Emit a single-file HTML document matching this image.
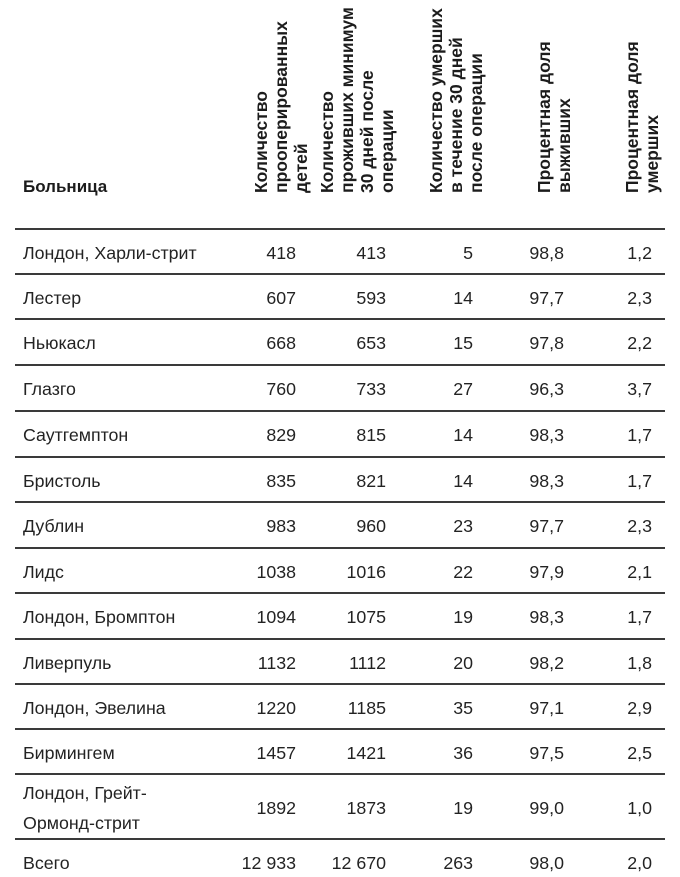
<!DOCTYPE html>
<html>
<head>
<meta charset="utf-8">
<style>
  html, body { margin:0; padding:0; background:#fff; }
  svg { display:block; }
  .h { font-family:"Liberation Sans", "Noto Sans CJK SC", sans-serif; font-weight:bold; font-size:17px; fill:#1c1c1c; }
  .hr { font-family:"Liberation Sans", "Noto Sans CJK SC", sans-serif; font-weight:bold; font-size:17.5px; fill:#1c1c1c; }
  .t { font-family:"Liberation Sans", "Noto Sans CJK SC", sans-serif; font-size:17.8px; fill:#232323; }
  .n { text-anchor:end; }
  line { stroke:#3a3a3a; stroke-width:2; }
</style>
</head>
<body>
<svg width="680" height="877" viewBox="0 0 680 877" xmlns="http://www.w3.org/2000/svg">
  <!-- Header -->
  <text class="h" x="23" y="192">Больница</text>

  <g class="hr">
    <text transform="translate(267,193) rotate(-90)">Количество</text>
    <text transform="translate(287,193) rotate(-90)">прооперированных</text>
    <text transform="translate(307,193) rotate(-90)">детей</text>

    <text transform="translate(333,193) rotate(-90)">Количество</text>
    <text transform="translate(353,193) rotate(-90)">проживших минимум</text>
    <text transform="translate(373,193) rotate(-90)">30 дней после</text>
    <text transform="translate(393,193) rotate(-90)">операции</text>

    <text transform="translate(442,193) rotate(-90)">Количество умерших</text>
    <text transform="translate(462,193) rotate(-90)">в течение 30 дней</text>
    <text transform="translate(482,193) rotate(-90)">после операции</text>

    <text transform="translate(550,193) rotate(-90)">Процентная доля</text>
    <text transform="translate(570,193) rotate(-90)">выживших</text>

    <text transform="translate(638,193) rotate(-90)">Процентная доля</text>
    <text transform="translate(658,193) rotate(-90)">умерших</text>
  </g>

  <!-- Lines -->
  <line x1="15" y1="229" x2="665" y2="229"/>
  <line x1="15" y1="274" x2="665" y2="274"/>
  <line x1="15" y1="319" x2="665" y2="319"/>
  <line x1="15" y1="365" x2="665" y2="365"/>
  <line x1="15" y1="411" x2="665" y2="411"/>
  <line x1="15" y1="457" x2="665" y2="457"/>
  <line x1="15" y1="502" x2="665" y2="502"/>
  <line x1="15" y1="548" x2="665" y2="548"/>
  <line x1="15" y1="593" x2="665" y2="593"/>
  <line x1="15" y1="639" x2="665" y2="639"/>
  <line x1="15" y1="684" x2="665" y2="684"/>
  <line x1="15" y1="729" x2="665" y2="729"/>
  <line x1="15" y1="774" x2="665" y2="774"/>
  <line x1="15" y1="839" x2="665" y2="839"/>

  <!-- Rows -->
  <g class="t">
    <text x="23" y="259">Лондон, Харли-стрит</text>
    <text class="n" x="296" y="259">418</text><text class="n" x="386" y="259">413</text><text class="n" x="473" y="259">5</text><text class="n" x="564" y="259">98,8</text><text class="n" x="652" y="259">1,2</text>

    <text x="23" y="304">Лестер</text>
    <text class="n" x="296" y="304">607</text><text class="n" x="386" y="304">593</text><text class="n" x="473" y="304">14</text><text class="n" x="564" y="304">97,7</text><text class="n" x="652" y="304">2,3</text>

    <text x="23" y="349">Ньюкасл</text>
    <text class="n" x="296" y="349">668</text><text class="n" x="386" y="349">653</text><text class="n" x="473" y="349">15</text><text class="n" x="564" y="349">97,8</text><text class="n" x="652" y="349">2,2</text>

    <text x="23" y="395">Глазго</text>
    <text class="n" x="296" y="395">760</text><text class="n" x="386" y="395">733</text><text class="n" x="473" y="395">27</text><text class="n" x="564" y="395">96,3</text><text class="n" x="652" y="395">3,7</text>

    <text x="23" y="441">Саутгемптон</text>
    <text class="n" x="296" y="441">829</text><text class="n" x="386" y="441">815</text><text class="n" x="473" y="441">14</text><text class="n" x="564" y="441">98,3</text><text class="n" x="652" y="441">1,7</text>

    <text x="23" y="487">Бристоль</text>
    <text class="n" x="296" y="487">835</text><text class="n" x="386" y="487">821</text><text class="n" x="473" y="487">14</text><text class="n" x="564" y="487">98,3</text><text class="n" x="652" y="487">1,7</text>

    <text x="23" y="532">Дублин</text>
    <text class="n" x="296" y="532">983</text><text class="n" x="386" y="532">960</text><text class="n" x="473" y="532">23</text><text class="n" x="564" y="532">97,7</text><text class="n" x="652" y="532">2,3</text>

    <text x="23" y="578">Лидс</text>
    <text class="n" x="296" y="578">1038</text><text class="n" x="386" y="578">1016</text><text class="n" x="473" y="578">22</text><text class="n" x="564" y="578">97,9</text><text class="n" x="652" y="578">2,1</text>

    <text x="23" y="623">Лондон, Бромптон</text>
    <text class="n" x="296" y="623">1094</text><text class="n" x="386" y="623">1075</text><text class="n" x="473" y="623">19</text><text class="n" x="564" y="623">98,3</text><text class="n" x="652" y="623">1,7</text>

    <text x="23" y="669">Ливерпуль</text>
    <text class="n" x="296" y="669">1132</text><text class="n" x="386" y="669">1112</text><text class="n" x="473" y="669">20</text><text class="n" x="564" y="669">98,2</text><text class="n" x="652" y="669">1,8</text>

    <text x="23" y="714">Лондон, Эвелина</text>
    <text class="n" x="296" y="714">1220</text><text class="n" x="386" y="714">1185</text><text class="n" x="473" y="714">35</text><text class="n" x="564" y="714">97,1</text><text class="n" x="652" y="714">2,9</text>

    <text x="23" y="759">Бирмингем</text>
    <text class="n" x="296" y="759">1457</text><text class="n" x="386" y="759">1421</text><text class="n" x="473" y="759">36</text><text class="n" x="564" y="759">97,5</text><text class="n" x="652" y="759">2,5</text>

    <text x="23" y="799">Лондон, Грейт-</text>
    <text x="23" y="829">Ормонд-стрит</text>
    <text class="n" x="296" y="814">1892</text><text class="n" x="386" y="814">1873</text><text class="n" x="473" y="814">19</text><text class="n" x="564" y="814">99,0</text><text class="n" x="652" y="814">1,0</text>

    <text x="23" y="869">Всего</text>
    <text class="n" x="296" y="869">12 933</text><text class="n" x="386" y="869">12 670</text><text class="n" x="473" y="869">263</text><text class="n" x="564" y="869">98,0</text><text class="n" x="652" y="869">2,0</text>
  </g>
</svg>
</body>
</html>
